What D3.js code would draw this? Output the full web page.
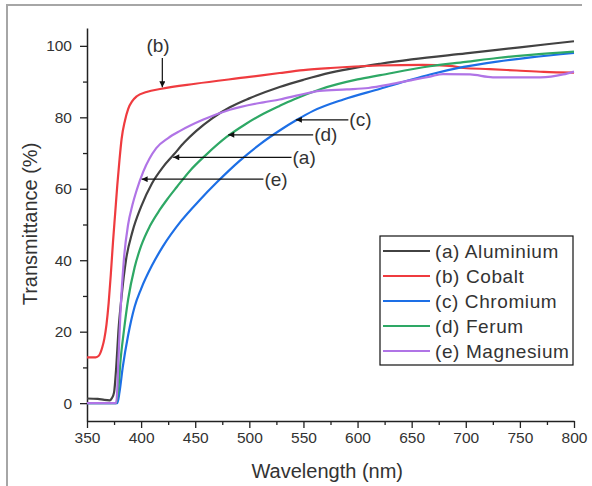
<!DOCTYPE html>
<html>
<head>
<meta charset="utf-8">
<script src="https://cdn.jsdelivr.net/npm/d3@7"></script>
<style>
  body { margin: 0; background: #fff; }
  text { font-family: "Liberation Sans", Arial, sans-serif; fill: #333; }
</style>
</head>
<body>
<div id="chart"></div>
<script>
// wavelength (nm), transmittance (%)
var aluminium = [[350,1.3],[360,1.2],[366,0.9],[371,0.8],[373,1.4],[375,3],[377,10],[379,20],[382,30],[386,40],[392,48],[400,55],[410,61.5],[420,66],[430,69.5],[440,73],[451,76.2],[466,79.8],[482,82.8],[500,85.3],[528,88.5],[550,90.5],[575,92.5],[600,94],[621,95],[650,96.2],[700,97.9],[750,99.6],[800,101.3]];
var cobalt = [[350,12.8],[358,12.8],[361,13.3],[364,15.5],[366,18],[368,22],[370,28],[372,36],[374,45],[376,53],[378,61],[380,68],[382,74],[385,79],[388,82.3],[392,84.6],[396,85.9],[405,87.1],[419,88],[450,89.4],[500,91.3],[528,92.4],[550,93.2],[575,93.8],[620,94.5],[660,94.7],[685,94.4],[698,93.8],[722,93.5],[747,93.1],[772,92.7],[800,92.5]];
var chromium = [[350,0],[378,0],[380,3],[383,10],[388,19],[394,27],[400,32],[410,38.5],[420,43.8],[437,51],[454,56.8],[470,61.8],[491,67.8],[510,72.5],[528,76.3],[544,79.3],[559,81.8],[587,85],[621,88],[650,90.6],[667,92],[698,94.1],[729,95.6],[760,96.8],[800,98]];
var ferum = [[350,0],[377,0],[379,4],[381,12],[384,20],[388,29],[394,38],[400,44],[408,49.5],[417,54],[424,57],[433,60.5],[445,65],[460,69.5],[479,74.5],[496,78],[513,81],[528,83.2],[541,85],[565,87.8],[600,90.6],[621,91.8],[667,94.3],[700,95.5],[729,96.6],[760,97.5],[800,98.4]];
var magnesium = [[350,0],[377,0],[378,4],[379,12],[381,26],[384,40],[388,50],[392,55.5],[396,59.7],[402,64.8],[414,71.4],[425,74.2],[436,76.2],[457,79.3],[482,82.1],[513,84.2],[528,85],[547,86.3],[565,87.4],[590,87.8],[610,88.2],[630,89.2],[651,90.5],[667,91.4],[679,92.1],[704,92],[725,91.2],[769,91.2],[790,92],[800,92.8]];

var seriesNames = ["(a) Aluminium", "(b) Cobalt", "(c) Chromium", "(d) Ferum", "(e) Magnesium"];
var seriesData = [aluminium, cobalt, chromium, ferum, magnesium];
var seriesColors = ["#424242", "#ef3b3f", "#1d6fe6", "#2ea865", "#b074e6"];

var xTicks = [350, 400, 450, 500, 550, 600, 650, 700, 750, 800];
var yTicks = [0, 20, 40, 60, 80, 100];

// label, arrow tip [wl, T], end of arrow line (wl) -- horizontal arrows
var notes = [
    { label: "(c)", tip: [543, 79.3], end: 591.5 },
    { label: "(d)", tip: [480.5, 75.1], end: 559 },
    { label: "(a)", tip: [429.7, 68.8], end: 539 },
    { label: "(e)", tip: [400.5, 62.7], end: 513 }
];

var svgWidth = 592;
var svgHeight = 486;

var margin = { top: 28, right: 18, bottom: 65, left: 87 };
var width = svgWidth - margin.left - margin.right;
var height = svgHeight - margin.top - margin.bottom;

var svg = d3.select("#chart")
    .append("svg")
    .attr("width", svgWidth)
    .attr("height", svgHeight);

// frame (left + top only visible)
svg.append("path")
    .attr("d", "M7,486 L7,5 L582,5")
    .attr("fill", "none")
    .attr("stroke", "#a6a6a6")
    .attr("stroke-width", 2);

// arrow head pointing along -x of the marker, i.e. back toward the line start
svg.append("defs").append("marker")
    .attr("id", "head")
    .attr("viewBox", "0 0 10 10")
    .attr("refX", 0)
    .attr("refY", 5)
    .attr("markerWidth", 9)
    .attr("markerHeight", 6)
    .attr("markerUnits", "userSpaceOnUse")
    .attr("orient", "auto")
    .append("path")
    .attr("d", "M0,5 L10,0 L10,10 Z")
    .attr("fill", "#111");

var chart = svg.append("g")
    .attr("transform", `translate(${margin.left}, ${margin.top})`);

var xScale = d3.scaleLinear().domain([350, 800]).range([0, width]);
var yScale = d3.scaleLinear().domain([-5, 105]).range([height, 0]);

// minor ticks first
chart.append("g")
    .attr("transform", "translate(0," + height + ")")
    .call(d3.axisBottom(xScale).tickValues(d3.range(375, 800, 50)).tickSize(4).tickFormat(""))
    .call(g => g.select(".domain").remove());
chart.append("g")
    .call(d3.axisLeft(yScale).tickValues(d3.range(10, 101, 20)).tickSize(4).tickFormat(""))
    .call(g => g.select(".domain").remove());

chart.append("g")
    .attr("transform", "translate(0," + height + ")")
    .call(d3.axisBottom(xScale).tickValues(xTicks).tickSize(7).tickSizeOuter(0).tickPadding(4));
chart.append("g")
    .call(d3.axisLeft(yScale).tickValues(yTicks).tickSize(7).tickSizeOuter(0).tickPadding(8));

chart.selectAll(".tick line").attr("stroke", "#222").attr("stroke-width", 1.3);
chart.selectAll(".domain").attr("stroke", "#222").attr("stroke-width", 1.5);
chart.selectAll(".tick text").style("font-size", "15.5px").attr("fill", "#333");

// curves
var line = d3.line()
    .x(d => xScale(d[0]))
    .y(d => yScale(d[1]))
    .curve(d3.curveMonotoneX);

chart.selectAll(".series")
    .data(seriesData)
    .enter()
    .append("path")
    .attr("class", "series")
    .attr("d", d => line(d))
    .attr("fill", "none")
    .attr("stroke", (d, i) => seriesColors[i])
    .attr("stroke-width", 2.2);

// annotations
notes.forEach(function (n) {
    chart.append("line")
        .attr("x1", xScale(n.tip[0]))
        .attr("y1", yScale(n.tip[1]))
        .attr("x2", xScale(n.end))
        .attr("y2", yScale(n.tip[1]))
        .attr("stroke", "#111")
        .attr("stroke-width", 1.2)
        .attr("marker-start", "url(#head)");
    chart.append("text")
        .attr("x", xScale(n.end) + 1)
        .attr("y", yScale(n.tip[1]))
        .attr("dy", "0.35em")
        .style("font-size", "19px")
        .text(n.label);
});

// (b) vertical arrow, drawn from the tip upward
chart.append("line")
    .attr("x1", xScale(419.6))
    .attr("y1", yScale(88.4))
    .attr("x2", xScale(419.6))
    .attr("y2", yScale(96.6))
    .attr("stroke", "#111")
    .attr("stroke-width", 1.2)
    .attr("marker-start", "url(#head)");
chart.append("text")
    .attr("x", xScale(415.6))
    .attr("y", yScale(100.1))
    .attr("dy", "0.35em")
    .attr("text-anchor", "middle")
    .style("font-size", "19px")
    .text("(b)");

// axis titles
chart.append("text")
    .attr("x", xScale(572))
    .attr("y", height + 57)
    .attr("text-anchor", "middle")
    .style("font-size", "20px")
    .text("Wavelength (nm)");

chart.append("text")
    .attr("transform", "rotate(-90)")
    .attr("x", -(224 - margin.top))
    .attr("y", 37 - margin.left)
    .attr("text-anchor", "middle")
    .style("font-size", "20px")
    .text("Transmittance (%)");

// legend
var legend = chart.append("g")
    .attr("transform", "translate(" + (380 - margin.left) + "," + (236 - margin.top) + ")");

legend.append("rect")
    .attr("width", 193)
    .attr("height", 129)
    .attr("fill", "#fff")
    .attr("stroke", "#111")
    .attr("stroke-width", 1.2);

var rows = legend.selectAll(".row")
    .data(seriesNames)
    .enter()
    .append("g")
    .attr("transform", (d, i) => "translate(0," + (15 + i * 25) + ")");

rows.append("line")
    .attr("x1", 3)
    .attr("x2", 50)
    .attr("stroke", (d, i) => seriesColors[i])
    .attr("stroke-width", 2.2);

rows.append("text")
    .attr("x", 55)
    .attr("dy", "0.35em")
    .style("font-size", "19px")
    .style("letter-spacing", "0.6px")
    .text(d => d);
</script>
</body>
</html>
